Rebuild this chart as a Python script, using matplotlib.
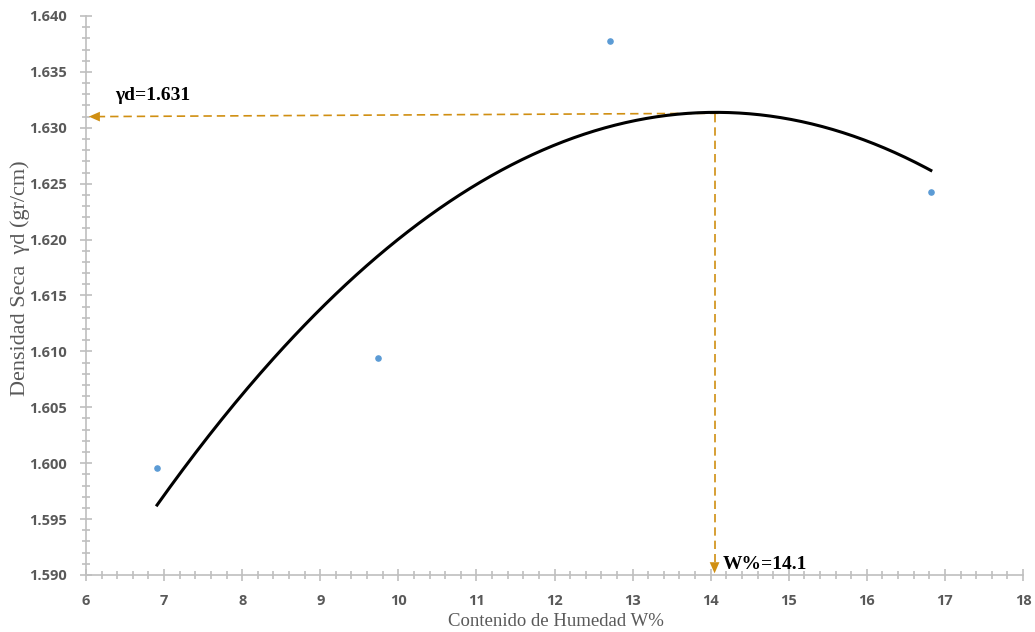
import numpy as np
import matplotlib.pyplot as plt
from matplotlib.ticker import MultipleLocator, FormatStrFormatter

# Proctor test: moisture content vs dry density
humedad = [6.91, 9.74, 12.71, 16.82]
densidad = [1.5996, 1.6094, 1.6378, 1.6243]

# optimum values
w_opt = 14.1
gd_opt = 1.631

fig = plt.figure(figsize=(10.35, 6.32), dpi=100)
ax = fig.add_axes([0.0831, 0.0902, 0.9053, 0.8845])

# second-order trend line
coef = np.polyfit(humedad, densidad, 2)
xs = np.linspace(min(humedad), max(humedad), 300)
ax.plot(xs, np.polyval(coef, xs), color="black", lw=2.2, zorder=3)

ax.scatter(humedad, densidad, s=14, color="#5B9BD5", zorder=4)

gold = "#D08F12"
ax.plot([w_opt, 6.12], [gd_opt + 0.0003, gd_opt], color=gold, lw=1.2,
        dashes=(5, 3), zorder=2)
ax.annotate("", xy=(6.0, gd_opt), xytext=(6.2, gd_opt),
            arrowprops=dict(arrowstyle="-|>,head_length=0.8,head_width=0.35",
                            color=gold, lw=0))
ax.plot([w_opt - 0.05, w_opt - 0.05], [gd_opt + 0.0002, 1.5912], color=gold,
        lw=1.2, dashes=(5, 3), zorder=2)
ax.annotate("", xy=(w_opt - 0.05, 1.5899), xytext=(w_opt - 0.05, 1.592),
            arrowprops=dict(arrowstyle="-|>,head_length=0.8,head_width=0.35",
                            color=gold, lw=0), annotation_clip=False)

ax.text(6.37, 1.6325, f"γd={gd_opt:.3f}", family="Liberation Serif",
        fontsize=14, fontweight="bold", color="black")
ax.text(w_opt + 0.05, 1.5905, f"W%={w_opt}", family="Liberation Serif",
        fontsize=14, fontweight="bold", color="black")

ax.set_xlim(6, 18)
ax.set_ylim(1.590, 1.640)
ax.xaxis.set_major_locator(MultipleLocator(1))
ax.xaxis.set_minor_locator(MultipleLocator(0.2))
ax.yaxis.set_major_locator(MultipleLocator(0.005))
ax.yaxis.set_minor_locator(MultipleLocator(0.001))
ax.yaxis.set_major_formatter(FormatStrFormatter("%.3f"))

for s in ["top", "right"]:
    ax.spines[s].set_visible(False)
for s in ["left", "bottom"]:
    ax.spines[s].set_color("#BFBFBF")
    ax.spines[s].set_linewidth(1.2)

ax.tick_params(which="both", direction="inout", color="#BFBFBF", width=1.2)
ax.tick_params(which="major", length=8, labelsize=10.5, labelcolor="#595959")
ax.tick_params(axis="y", which="major", pad=10)
ax.tick_params(axis="x", which="major", pad=10)
ax.tick_params(which="minor", length=6)
for lab in ax.get_xticklabels() + ax.get_yticklabels():
    lab.set_fontweight("bold")
    lab.set_family("Open Sans")

fig.text(0.537, 0.016, "Contenido de Humedad W%", family="Liberation Serif",
         fontsize=13.5, color="#595959", ha="center", va="center")
fig.text(0.0195, 0.56, "Densidad Seca  γd (gr/cm)", family="Liberation Serif",
         fontsize=16, color="#595959", ha="center", va="center", rotation=90)

fig.savefig("out.png", dpi=100)
